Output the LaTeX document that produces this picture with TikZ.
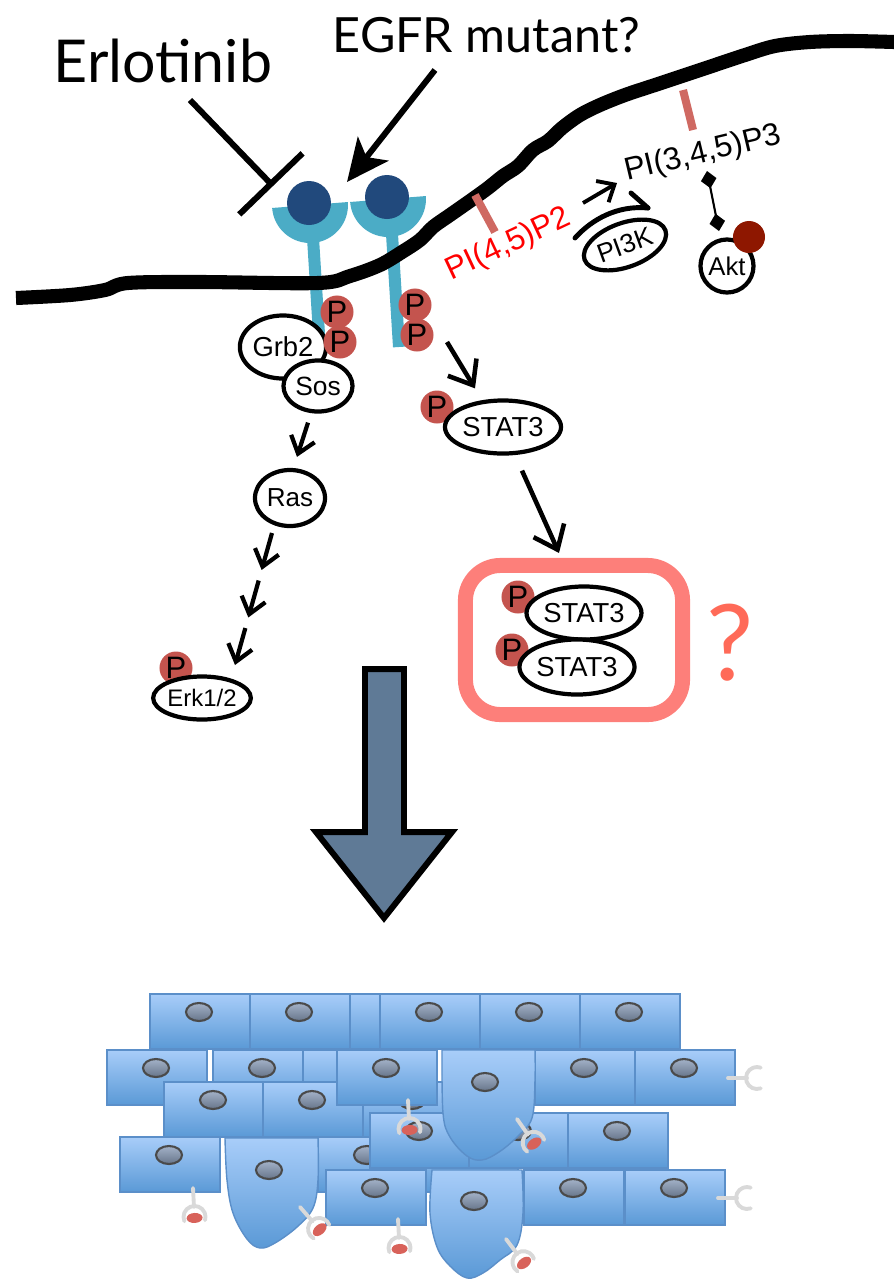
\documentclass[tikz,border=0pt]{standalone}
\usepackage{fontspec}
\setmainfont{Liberation Sans}
\newfontfamily\headfont{Lato}
\usetikzlibrary{shapes.geometric,arrows.meta,calc}

\definecolor{cupblue}{HTML}{4BACC6}
\definecolor{ligand}{HTML}{21497C}
\definecolor{pcol}{HTML}{C4544E}
\definecolor{lipid}{HTML}{CF6962}
\definecolor{boxred}{HTML}{FD7F7A}
\definecolor{qred}{HTML}{FF6A58}
\definecolor{aktdot}{HTML}{8E1700}
\definecolor{bigarrow}{HTML}{5F7A96}
\definecolor{celltop}{HTML}{A8CDF9}
\definecolor{cellbot}{HTML}{5A99D6}
\definecolor{cellline}{HTML}{5B8FC9}
\definecolor{nuctop}{HTML}{A3B2C8}
\definecolor{nucbot}{HTML}{67758A}
\definecolor{nucline}{HTML}{4A4A4A}
\definecolor{rgray}{HTML}{D9D9D9}
\definecolor{ligred}{HTML}{D8625A}

\tikzset{
  mol/.style={ellipse,draw=black,line width=1.2pt,fill=white,inner sep=0pt,
    font=\fontsize{7.8}{9}\selectfont},
  phos/.style={circle,fill=pcol,inner sep=0pt,minimum size=0.33cm,
    font=\fontsize{8.8}{9}\selectfont},
  sig/.style={line width=1.2pt,-{Straight Barb[length=4.5pt,width=7pt]}},
  bigsig/.style={line width=1.3pt,-{Straight Barb[length=6pt,width=9.5pt]}},
  cellsty/.style={draw=cellline,line width=0.4pt,top color=celltop,bottom color=cellbot},
  nucsty/.style={draw=nucline,line width=0.6pt,top color=nuctop,bottom color=nucbot},
  rstem/.style={draw=rgray,line width=1.1pt,line cap=round},
  cellbox/.pic={
    \path[cellsty] (0,0) rectangle (100,55);
    \path[nucsty] (49,18) ellipse[x radius=13,y radius=9];
  },
  rcpt/.pic={
    \draw[rstem] (0,0) -- (0,19);
    \draw[rstem] (0,29) ++(160:11) arc[start angle=160,end angle=380,radius=11];
    \fill[ligred] (0,30) ellipse[x radius=8,y radius=5];
  },
  rcptfree/.pic={
    \draw[rstem] (0,0) -- (0,19);
    \draw[rstem] (0,29) ++(160:11) arc[start angle=160,end angle=380,radius=11];
  }
}

\begin{document}
\begin{tikzpicture}[x=0.01cm,y=-0.01cm]
\useasboundingbox (0,0) rectangle (894,1281);

% ---------- receptors ----------
\draw[cupblue,line width=0.12cm] (313,238) -- (320,350);
\draw[cupblue,line width=0.12cm] (392,234) -- (399,347);
\fill[cupblue,rotate around={4.5:(310,205)}] (272,205) arc[start angle=180,end angle=0,radius=38] -- cycle;
\fill[cupblue,rotate around={4.5:(388,199)}] (350,199) arc[start angle=180,end angle=0,radius=38] -- cycle;
\fill[ligand] (309,203) circle[radius=22];
\fill[ligand] (387,197) circle[radius=22];

% ---------- membrane ----------
\draw[line width=4pt,line join=round] plot[smooth,tension=0.55] coordinates {
  (16,298) (70,295) (105,290) (128,283) (200,282) (318,283) (350,276) (380,265)
  (402,252) (420,240) (433,227) (450,215) (470,201) (488,188) (503,176) (518,166)
  (533,150) (548,141) (562,128) (580,115) (600,105) (625,95) (655,85) (685,75)
  (712,66) (745,55) (775,46) (810,42) (850,41) (894,42)};

% lipid head groups
\draw[lipid,line width=0.08cm] (475,195) -- (495,232);
\draw[lipid,line width=0.08cm] (683,90) -- (693,130);

% ---------- titles and drug ----------
\node[anchor=base west,inner sep=0pt,font=\headfont\fontsize{16.8}{20}\selectfont] (erl) at (53,82) {Erlotinib};
\node[anchor=base west,inner sep=0pt,font=\headfont\fontsize{13.8}{16}\selectfont] (egfr) at (332,52) {EGFR mutant?};
\coordinate (inhS) at (190,100);
\coordinate (inhE) at (273,186);
\draw[line width=1.7pt,-{Bar[width=25pt]}] (inhS) -- (inhE);
\coordinate (mutS) at (435,70);
\coordinate (mutE) at (347,182);
\draw[line width=1.7pt,-{Stealth[length=12pt,width=11pt,inset=3pt]}] (mutS) -- (mutE);

% ---------- adaptor complex ----------
\node[mol,minimum width=0.75cm,minimum height=0.63cm] (grb) at (283,347) {Grb2};
\node[mol,minimum width=0.69cm,minimum height=0.51cm,font=\fontsize{7.5}{9}\selectfont] (sos) at (318,386) {Sos};
\node[phos] (pa) at (337,312) {P};
\node[phos] (pb) at (340,342) {P};
\node[phos] (pc) at (415,305) {P};
\node[phos] (pd) at (417,335) {P};

% ---------- MAPK branch ----------
\node[mol,minimum width=0.70cm,minimum height=0.56cm,font=\fontsize{7.4}{9}\selectfont] (ras) at (290,498) {Ras};
\node[phos] (pe) at (176,668) {P};
\node[mol,minimum width=0.91cm,minimum height=0.43cm,font=\fontsize{6.8}{9}\selectfont] (erk) at (202,698) {Erk1/2};
\draw[sig] ($(sos.south)+(-10,9)$) -- ($(ras.north)+(7,-11)$);
\coordinate (k0) at (272,533);
\coordinate (k1) at (235,665);
\draw[sig] ($(k0)!0!(k1)$) -- ($(k0)!0.28!(k1)$);
\draw[sig] ($(k0)!0.36!(k1)$) -- ($(k0)!0.64!(k1)$);
\draw[sig] ($(k0)!0.72!(k1)$) -- ($(k0)!1!(k1)$);

% ---------- STAT3 branch ----------
\node[phos] (pf) at (437,407) {P};
\node[mol,minimum width=1.16cm,minimum height=0.53cm] (stat) at (503,427) {STAT3};
\draw[bigsig] ($(pd)+(30,7)$) -- ($(stat.north)+(-28,-10)$);

\node[draw=boxred,line width=0.15cm,rounded corners=0.35cm,minimum width=2.17cm,minimum height=1.49cm] (box) at (574,640) {};
\draw[bigsig] ($(stat.south)+(19,15)$) -- ($(box.north)+(-15,-5)$);
\node[phos] (pg) at (518,597) {P};
\node[mol,minimum width=1.14cm,minimum height=0.53cm] (sta) at (584,613) {STAT3};
\node[phos] (ph) at (512,650) {P};
\node[mol,minimum width=1.15cm,minimum height=0.55cm] (stb) at (577,667) {STAT3};
\node[text=qred,inner sep=0pt,font=\headfont\fontsize{30}{30}\selectfont] (qm) at (730,643) {?};

% ---------- PI3K / Akt ----------
\node[anchor=base,inner sep=0pt,rotate=25.2,text=red,font=\fontsize{9}{10}\selectfont] (pip2) at (512,252) {PI(4,5)P2};
\node[anchor=base,inner sep=0pt,rotate=13.4,font=\fontsize{9}{10}\selectfont] (pip3) at (705,162) {PI(3,4,5)P3};
\node[mol,rotate=20,minimum width=0.86cm,minimum height=0.44cm,font=\fontsize{7.5}{9}\selectfont] (pi3k) at (625,245) {PI3K};
% curved catalysis arrow with a single barb
\coordinate (cvS) at (575,238);
\coordinate (cvE) at (648,208);
\draw[line width=1.4pt,line cap=round] (cvS) .. controls (592,219) and (618,205) .. (cvE);
\draw[line width=1.4pt,line cap=round] (cvE) -- ++(-17,-15);
\coordinate (ppS) at (583,203);
\coordinate (ppE) at (617,183);
\draw[line width=1.1pt,-{Straight Barb[length=4pt,width=7pt]}] (ppS) -- (ppE);
\node[circle,draw=black,line width=1.2pt,fill=white,inner sep=0pt,minimum size=0.53cm,font=\fontsize{7.3}{9}\selectfont] (akt) at (727,266) {Akt};
\node[circle,fill=aktdot,inner sep=0pt,minimum size=0.32cm] (aktp) at (749,237) {};
\coordinate (dmS) at (707,171);
\coordinate (dmE) at (719,231);
\draw[line width=0.6pt,{Diamond[length=5pt,width=4.5pt]}-{Diamond[length=5pt,width=4.5pt]}] (dmS) -- (dmE);

% ---------- big transition arrow ----------
\draw[line width=1.7pt,fill=bigarrow,line join=miter] (365,669) -- (404,669) -- (404,832) -- (452,832) -- (384,918) -- (316,832) -- (365,832) -- cycle;

% ---------- epithelium ----------
% back layer
\pic at (350,994) {cellbox};
\foreach \x in {150,250,380,480,580} \pic at (\x,994) {cellbox};
\pic at (213,1050) {cellbox};
\pic at (303,1050) {cellbox};
\pic at (363,1082) {cellbox};
\pic at (318,1137) {cellbox};
\pic at (418,1137) {cellbox};
% middle layer
\pic at (107,1050) {cellbox};
\pic at (164,1082) {cellbox};
\pic at (263,1082) {cellbox};
\pic at (337,1050) {cellbox};
\pic at (535,1050) {cellbox};
\pic at (635,1050) {cellbox};
\pic at (370,1113) {cellbox};
\pic at (469,1113) {cellbox};
\pic at (568,1113) {cellbox};
% invading cell 1
\path[cellsty] (535,1050) -- (442,1050) -- plot[smooth,tension=0.6] coordinates {(442,1050) (443,1113) (450,1137) (467,1156) (482,1160) (499,1152) (517,1137) (532,1118) (535,1080) (535,1050)} -- cycle;
\path[nucsty] (485,1082) ellipse[x radius=13,y radius=9];
% front layer
\pic at (120,1137) {cellbox};
\path[cellsty] (318,1138) -- (225,1138) -- plot[smooth,tension=0.6] coordinates {(225,1138) (227,1180) (233,1213) (247,1239) (260,1248) (275,1243) (297,1227) (313,1208) (318,1180) (318,1138)} -- cycle;
\path[nucsty] (269,1170) ellipse[x radius=13,y radius=9];
\pic at (326,1170) {cellbox};
\pic at (524,1170) {cellbox};
\pic at (625,1170) {cellbox};
\path[cellsty] (522,1170) -- (432,1170) -- plot[smooth,tension=0.6] coordinates {(432,1170) (430,1213) (437,1247) (450,1266) (467,1278) (483,1273) (500,1260) (517,1245) (523,1213) (522,1170)} -- cycle;
\path[nucsty] (474,1201) ellipse[x radius=13,y radius=9];

% receptors with bound ligand
\pic[rotate=3] at (193,1188) {rcpt};
\pic[rotate=41] at (300,1207) {rcpt};
\pic[rotate=3] at (408,1100) {rcpt};
\pic[rotate=35] at (517,1119) {rcpt};
\pic[rotate=3] at (398,1219) {rcpt};
\pic[rotate=37] at (506,1239) {rcpt};
\pic[rotate=90] at (728,1078) {rcptfree};
\pic[rotate=90] at (718,1198) {rcptfree};
\end{tikzpicture}
\end{document}
